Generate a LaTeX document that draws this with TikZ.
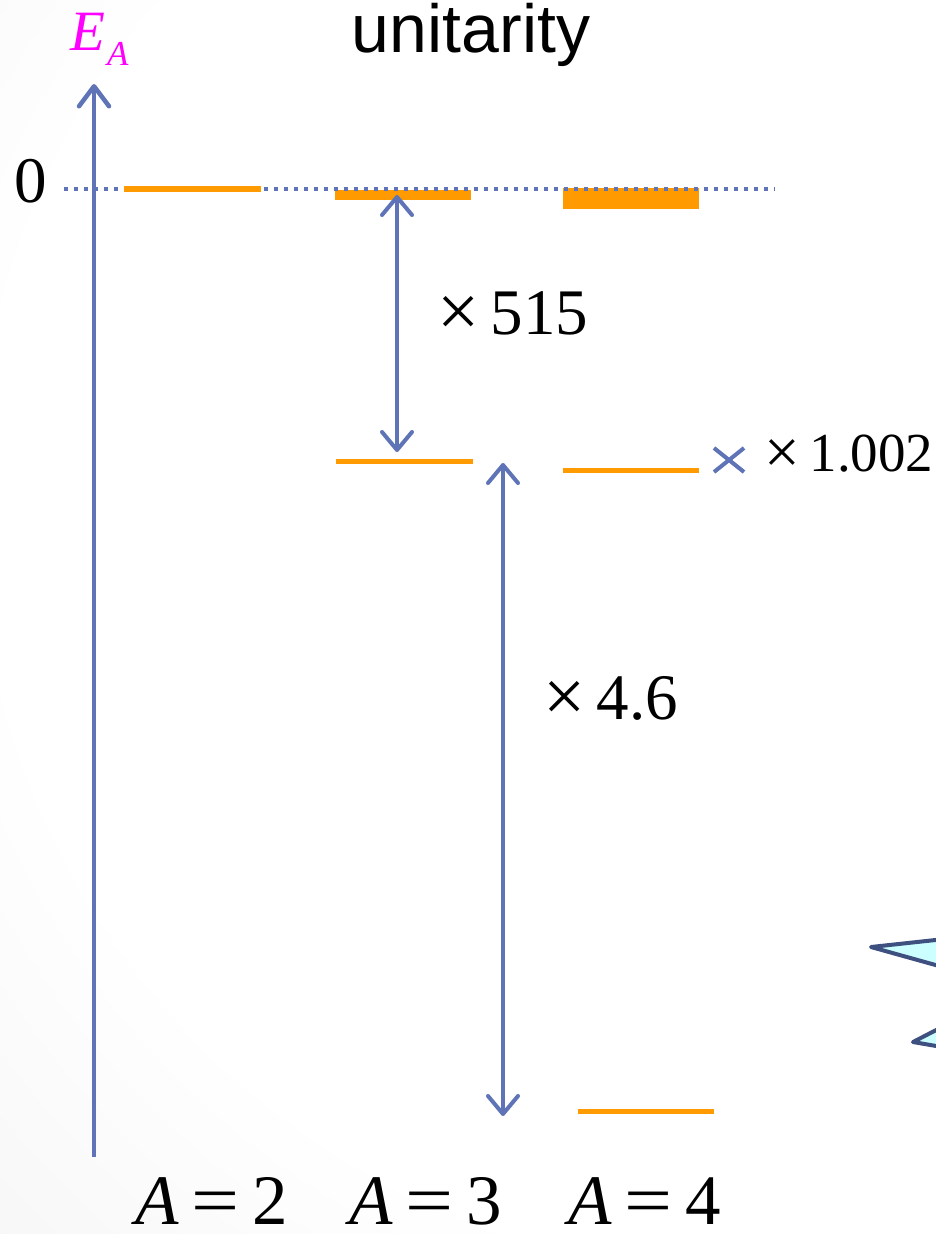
\documentclass[tikz,border=0pt]{standalone}
\usepackage{fontspec}
\usepackage{graphicx}
\setmainfont{Liberation Serif}
\setsansfont{Liberation Sans}
\usetikzlibrary{arrows.meta,shapes.misc}

\definecolor{axisblue}{RGB}{94,116,182}
\definecolor{levelorange}{RGB}{255,155,0}
\definecolor{edgeblue}{RGB}{62,80,128}
\definecolor{paleaqua}{RGB}{204,255,255}
\definecolor{labelmagenta}{RGB}{255,0,255}

% soft grey vignette behind the diagram
\pgfdeclareradialshading{pagefade}{\pgfpoint{0bp}{0bp}}{%
  color(0bp)=(white); color(14bp)=(white); color(25bp)=(black!6); color(50bp)=(black!12)}

% wide equals sign and times sign, as in the slide's equation font
\newcommand{\wideeq}{\hspace{13pt}\scalebox{1.2}[1]{=}\hspace{13pt}}
\newcommand{\bigtimes}{\raisebox{-2pt}{\scalebox{1.15}{×}}}

\tikzset{
  fs/.style={font=\fontsize{#1}{#1}\selectfont},
  axisline/.style={draw=axisblue, line width=4.5pt,
    -{Straight Barb[length=20pt,width=30pt,round]}},
  gaparrow/.style={draw=axisblue, line width=4pt,
    {Straight Barb[length=18pt,width=30pt,round]}-{Straight Barb[length=18pt,width=30pt,round]}},
  zeroline/.style={draw=axisblue, line width=4pt, dash pattern=on 4pt off 6pt},
  level/.style={draw=levelorange, line width=#1},
  level/.default=5pt,
  numlabel/.style={fs=65, inner sep=0pt, anchor=base},
  masslabel/.style={fs=71, inner sep=0pt, anchor=base},
  pointer/.style={draw=edgeblue, fill=paleaqua, line width=4pt, line join=round},
}

\begin{document}
\begin{tikzpicture}[x=1pt,y=-1pt]
  \useasboundingbox (0,0) rectangle (936,1234);
  \begin{scope}
    \clip (0,0) rectangle (936,1234);
    \shade[shading=pagefade] (750,500) circle (1350);
  \end{scope}

  % level bars: A=3 and A=4 near threshold (under the zero line)
  \coordinate (t3w) at (335,195);  \coordinate (t3e) at (471,195);
  \coordinate (t4w) at (563,198.5);\coordinate (t4e) at (699,198.5);
  \draw[level=10pt] (t3w) -- (t3e);
  \draw[level=21pt] (t4w) -- (t4e);

  % zero-energy line
  \coordinate (zw) at (64,189); \coordinate (ze) at (775,189);
  \draw[zeroline] (zw) -- (ze);

  % A=2 level at threshold
  \coordinate (t2w) at (124,189); \coordinate (t2e) at (261,189);
  \draw[level=5.5pt] (t2w) -- (t2e);

  % deeper levels
  \coordinate (g3w) at (336,461.5); \coordinate (g3e) at (473,461.5);
  \coordinate (m4w) at (563,470);   \coordinate (m4e) at (699,470);
  \coordinate (g4w) at (578,1111.5);\coordinate (g4e) at (714,1111.5);
  \draw[level] (g3w) -- (g3e);
  \draw[level] (m4w) -- (m4e);
  \draw[level] (g4w) -- (g4e);

  % energy axis
  \coordinate (axbot) at (94,1157); \coordinate (axtop) at (94,84);
  \draw[axisline] (axbot) -- (axtop);

  % ratio arrows
  \coordinate (r1a) at (397,195); \coordinate (r1b) at (397,452);
  \coordinate (r2a) at (503,463); \coordinate (r2b) at (503,1116);
  \draw[gaparrow] (r1a) -- (r1b);
  \draw[gaparrow] (r2a) -- (r2b);

  % marker next to the excited A=4 level
  \node[cross out, draw=axisblue, line width=4pt, minimum width=26pt,
        minimum height=20pt, inner sep=0pt] (xmark) at (729,460) {};

  % labels
  \node[fs=57, text=labelmagenta, inner sep=0pt, anchor=base west] (ea) at (70,50)
    {\itshape E\kern2pt\raisebox{-15pt}{\fontsize{35}{35}\selectfont A}};
  \node[font=\sffamily\fontsize{68}{68}\selectfont, inner sep=0pt, anchor=base]
    (title) at (471,52) {unitarity};
  \node[numlabel] (zero) at (31,202) {0};
  \node[numlabel] (f515) at (513,334) {\bigtimes\,515};
  \node[numlabel] (f46) at (611,719) {\bigtimes\,4.6};
  \node[numlabel, fs=55] (f1002) at (849,471) {\bigtimes\,1.002};
  \node[masslabel] (a2) at (212,1224) {\itshape A\upshape\wideeq 2};
  \node[masslabel] (a3) at (426,1224) {\itshape A\upshape\wideeq 3};
  \node[masslabel] (a4) at (645,1224) {\itshape A\upshape\wideeq 4};

  % pointers entering from the right edge
  \begin{scope}
    \clip (0,0) rectangle (936,1234);
    \draw[pointer] (871,947) -- (1000,933) -- (1000,983) -- cycle;
    \draw[pointer] (913,1042) -- (1000,997) -- (1000,1057) -- cycle;
  \end{scope}
\end{tikzpicture}
\end{document}
